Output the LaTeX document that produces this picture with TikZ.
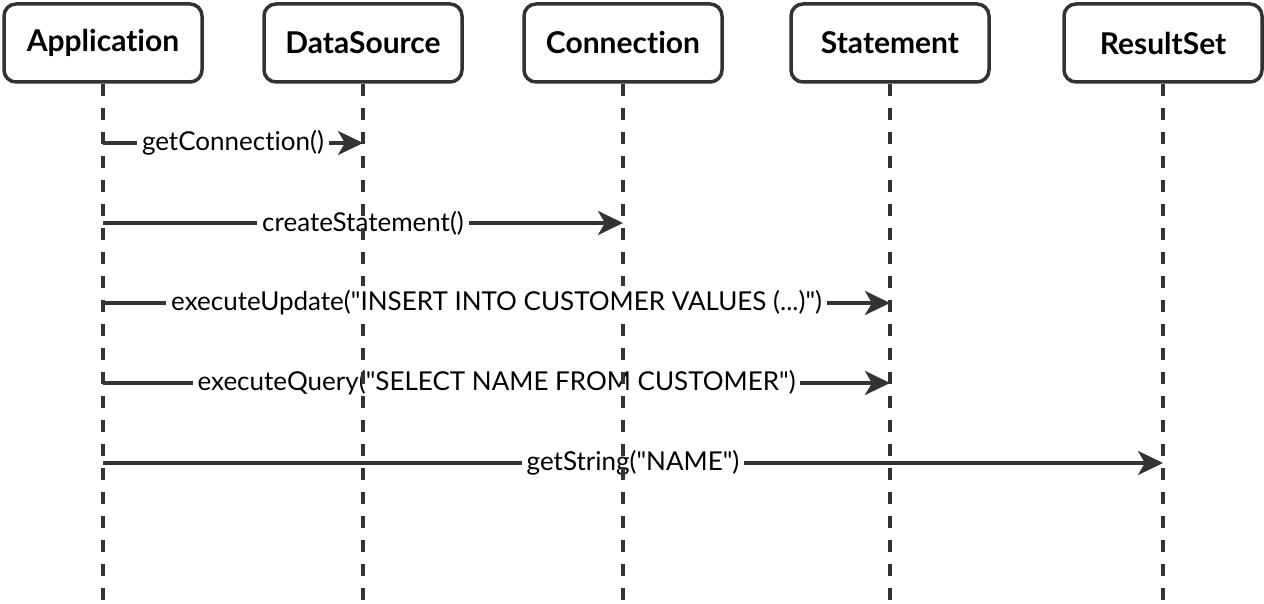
\documentclass[tikz,border=0pt]{standalone}
\usepackage{fontspec}
\setmainfont{Lato}[Ligatures=NoCommon]
\usetikzlibrary{arrows.meta}

\definecolor{lineGray}{HTML}{333333}

\newcommand{\qq}{\textquotedbl}

\tikzset{
	actorBox/.style={draw=lineGray, line width=3.5pt, rounded corners=12pt, minimum width=198pt, minimum height=78pt, inner sep=0pt, font=\fontsize{30}{36}\selectfont\bfseries},
	lifeLine/.style={draw=lineGray, line width=3.5pt, dash pattern=on 12pt off 12pt},
	msgArrow/.style={draw=lineGray, line width=3.5pt, -{Stealth[length=25pt,width=24pt,inset=7pt]}},
	msgLabel/.style={fill=white, inner sep=5pt, font=\fontsize{26}{31}\selectfont}
}

\begin{document}
\begin{tikzpicture}[x=1pt, y=-1pt]
		\useasboundingbox (0,0) rectangle (1264,604);
		
		% actors
		\node[actorBox] (app) at (103,43) {Application};
		\node[actorBox] (ds) at (363,43) {DataSource};
		\node[actorBox] (con) at (623,43) {Connection};
		\node[actorBox] (stm) at (890,43) {Statement};
		\node[actorBox] (rs) at (1163,43) {ResultSet};
		
		% message rows
		\coordinate (row1) at (0,143);
		\coordinate (row2) at (0,223);
		\coordinate (row3) at (0,303);
		\coordinate (row4) at (0,383);
		\coordinate (row5) at (0,463);
		
		% messages (under the lifelines)
		\draw[msgArrow] (app.center |- row1) -- node[msgLabel] (getConn) {getConnection()} (ds.center |- row1);
		\draw[msgArrow] (app.center |- row2) -- node[msgLabel] (createStm) {createStatement()} (con.center |- row2);
		\draw[msgArrow] (app.center |- row4) -- node[msgLabel] (execQry) {executeQuery(\qq SELECT NAME FROM CUSTOMER\qq)} (stm.center |- row4);
		\draw[msgArrow] (app.center |- row5) -- node[msgLabel] (getStr) {getString(\qq NAME\qq)} (rs.center |- row5);
		
		% lifelines
		\coordinate (appEnd) at (app.center |- 0,604);
		\coordinate (dsEnd) at (ds.center |- 0,604);
		\coordinate (conEnd) at (con.center |- 0,604);
		\coordinate (stmEnd) at (stm.center |- 0,604);
		\coordinate (rsEnd) at (rs.center |- 0,604);
		\draw[lifeLine] (app.south) -- (appEnd);
		\draw[lifeLine] (ds.south) -- (dsEnd);
		\draw[lifeLine] (con.south) -- (conEnd);
		\draw[lifeLine] (stm.south) -- (stmEnd);
		\draw[lifeLine] (rs.south) -- (rsEnd);
		
		% message on top
		\draw[msgArrow] (app.center |- row3) -- node[msgLabel] (execUpd) {executeUpdate(\qq INSERT INTO CUSTOMER VALUES (...)\qq)} (stm.center |- row3);
\end{tikzpicture}
\end{document}
